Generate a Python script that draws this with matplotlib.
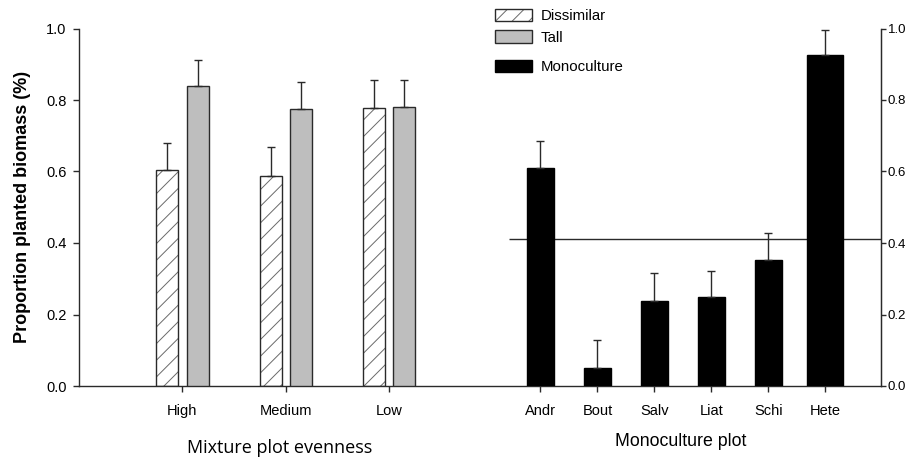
import numpy as np
import matplotlib.pyplot as plt
from matplotlib.legend_handler import HandlerTuple

plt.rcParams['font.family'] = ['Liberation Sans', 'DejaVu Sans']
plt.rcParams['hatch.linewidth'] = 0.7

# datos: mezclas
evenness = ['High', 'Medium', 'Low']
dissimilar = [0.603, 0.587, 0.778]
dissimilar_err = [0.077, 0.081, 0.077]
tall = [0.839, 0.776, 0.781]
tall_err = [0.074, 0.073, 0.074]

# datos: monocultivos
species = ['Andr', 'Bout', 'Salv', 'Liat', 'Schi', 'Hete']
mono = [0.610, 0.051, 0.238, 0.248, 0.352, 0.925]
mono_err = [0.076, 0.077, 0.077, 0.073, 0.077, 0.072]
reference_line = 0.41

# posiciones (layout)
mix_x = np.arange(1, 4)
mono_x = 4.464 + 0.551 * np.arange(len(species))
off = 0.147
w_mix = 0.213
w_mono = [0.26, 0.26, 0.26, 0.26, 0.26, 0.345]

edge = '#2a2a2a'

fig = plt.figure(figsize=(9.08, 4.58), dpi=100)
ax = fig.add_axes([79 / 908, 1 - 386 / 458, (881 - 79) / 908, (386 - 28.5) / 458])

err_kw = dict(ecolor=edge, elinewidth=1.0, capsize=2.9, capthick=1.0)

# Dissimilar: capa rayada + contorno
dis_h = ax.bar(mix_x - off, dissimilar, w_mix, color='white', edgecolor='#6a6a6a',
               hatch='//', linewidth=0, zorder=2)
dis_e = ax.bar(mix_x - off, dissimilar, w_mix, fill=False, edgecolor=edge, linewidth=1.0,
               yerr=[np.zeros(3), dissimilar_err], error_kw=err_kw, zorder=3)
tall_b = ax.bar(mix_x + off, tall, w_mix, color='#bebebe', edgecolor=edge, linewidth=1.0,
                yerr=[np.zeros(3), tall_err], error_kw=err_kw, zorder=3)
mono_b = ax.bar(mono_x, mono, w_mono, color='black', edgecolor='black', linewidth=1.0,
                yerr=[np.zeros(6), mono_err], error_kw=err_kw, zorder=3)

ax.hlines(reference_line, 4.155, 7.758, color=edge, linewidth=1.0, zorder=1)

ax.set_xlim(0, 7.758)
ax.set_ylim(0, 1.0)
ax.set_xticks(list(mix_x) + list(mono_x))
ax.set_xticklabels(evenness + species, fontsize=10.5)
ax.set_yticks(np.arange(0, 1.01, 0.2))
ax.set_yticklabels(['%.1f' % v for v in np.arange(0, 1.01, 0.2)], fontsize=10.5)
ax.tick_params(axis='x', direction='out', length=4, width=1, pad=9, colors=edge, labelcolor='black')
ax.tick_params(axis='y', direction='out', length=4, width=1, pad=5, colors=edge, labelcolor='black')
ax.spines['top'].set_visible(False)
for s in ['left', 'right', 'bottom']:
    ax.spines[s].set_color(edge)
    ax.spines[s].set_linewidth(1.0)

ax2 = ax.twinx()
ax2.set_ylim(0, 1.0)
ax2.set_yticks(np.arange(0, 1.01, 0.2))
ax2.set_yticklabels(['%.1f' % v for v in np.arange(0, 1.01, 0.2)], fontsize=9.5)
ax2.tick_params(axis='y', direction='out', length=3.5, width=1, pad=1.5, colors=edge, labelcolor='black')
for s in ['top', 'left', 'bottom']:
    ax2.spines[s].set_visible(False)
ax2.spines['right'].set_color(edge)

ax.set_ylabel('Proportion planted biomass (%)', fontsize=13, fontweight='bold', labelpad=11)
fig.text(280 / 908, 1 - 448 / 458, 'Mixture plot evenness', family=['Open Sans', 'DejaVu Sans'],
         fontsize=13, ha='center', va='center')
fig.text(681 / 908, 1 - 441 / 458, 'Monoculture plot', fontsize=12.8, ha='center', va='center')

leg1 = ax.legend([(dis_h, dis_e), tall_b], ['Dissimilar', 'Tall'],
                 handler_map={tuple: HandlerTuple(ndivide=1, pad=0)},
                 loc='upper left', bbox_to_anchor=(495 / 908, 1 - 9 / 458),
                 bbox_transform=fig.transFigure, frameon=False, borderpad=0, borderaxespad=0,
                 handlelength=2.47, handleheight=0.9, handletextpad=0.55, labelspacing=0.45,
                 fontsize=10.8)
ax.add_artist(leg1)
ax.legend([mono_b], ['Monoculture'], loc='upper left', bbox_to_anchor=(495 / 908, 1 - 60 / 458),
          bbox_transform=fig.transFigure, frameon=False, borderpad=0, borderaxespad=0,
          handlelength=2.47, handleheight=0.9, handletextpad=0.55, fontsize=10.8)

fig.savefig('out.png', dpi=100)
